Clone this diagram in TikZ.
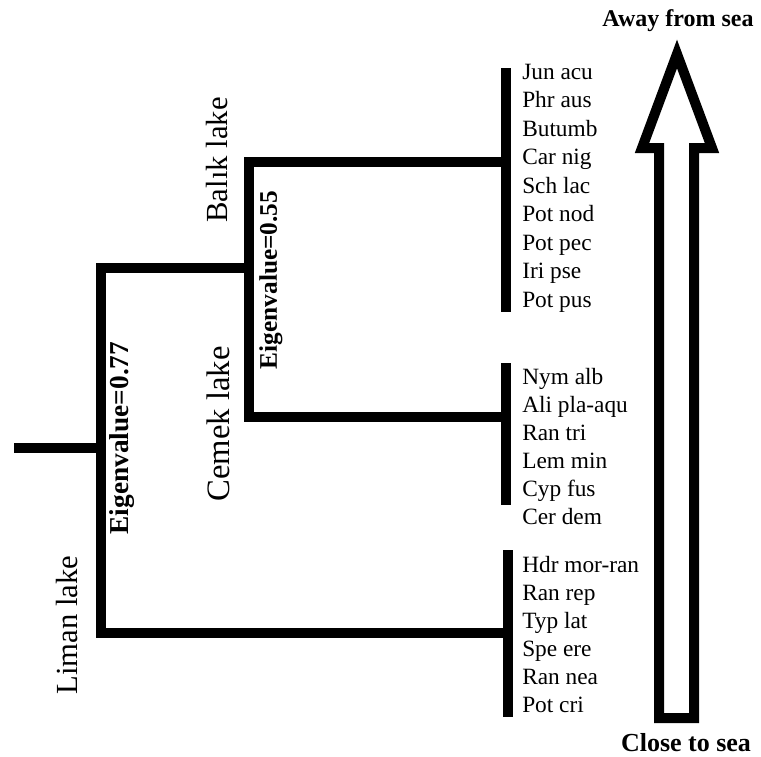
\documentclass[tikz,border=0pt]{standalone}
\usepackage{fontspec}
\setmainfont{Liberation Serif}
\usetikzlibrary{calc}
\tikzset{
  branch/.style={line width=7pt, line join=miter},
  leafbar/.style={line width=8pt},
  species/.style={anchor=base west, inner sep=0pt, font=\fontsize{17.5}{18}\selectfont},
  lake/.style={rotate=90, inner sep=0pt, font=\fontsize{23}{24}\selectfont},
  eigen/.style={rotate=90, inner sep=0pt, font=\bfseries\fontsize{19}{20}\selectfont},
  seaarrow/.style={line width=7.5pt, line join=miter},
  sealabel/.style={inner sep=0pt, font=\bfseries\fontsize{18}{20}\selectfont},
}

\begin{document}
\begin{tikzpicture}[x=0.75pt, y=-0.75pt]
\useasboundingbox (0,0) rectangle (761,757);

\begin{scope}
\coordinate (root) at (14,448);
\coordinate (n1) at (101,448);
\coordinate (n2) at (249,268);
\coordinate (g1) at (506,162);
\coordinate (g2) at (506,417);
\coordinate (g3) at (507,633);

\draw[branch] (root) -- (n1);
\draw[branch] (n2) -| (n1) |- (g3);
\draw[branch] (g1) -| (n2) |- (g2);

\coordinate (g1top) at (506,68);  \coordinate (g1bot) at (506,312);
\coordinate (g2top) at (506,363); \coordinate (g2bot) at (506,505);
\coordinate (g3top) at (508,550); \coordinate (g3bot) at (508,717);
\draw[leafbar] (g1top) -- (g1bot);
\draw[leafbar] (g2top) -- (g2bot);
\draw[leafbar] (g3top) -- (g3bot);

\node[eigen, font=\bfseries\fontsize{20.5}{22}\selectfont] (eig1) at (122,438) {Eigenvalue=0.77};
\node[eigen] (eig2) at (271,280) {Eigenvalue=0.55};

\node[lake] (balik) at (217,160) {Balık lake};
\node[lake, font=\fontsize{24.5}{26}\selectfont] (cemek) at (218,424) {Cemek lake};
\node[lake] (liman) at (67,625) {Liman lake};
\end{scope}%tree scope

\begin{scope}
\foreach \sp [count=\i] in {Jun acu, Phr aus, Butumb, Car nig, Sch lac, Pot nod, Pot pec, Iri pse, Pot pus}
  \node[species] (a\i) at (522,{79+28.5*(\i-1)}) {\sp};

\foreach \sp [count=\i] in {Nym alb, Ali pla-aqu, Ran tri, Lem min, Cyp fus, Cer dem}
  \node[species] (b\i) at (522,{384+28*(\i-1)}) {\sp};

\foreach \sp [count=\i] in {Hdr mor-ran, Ran rep, Typ lat, Spe ere, Ran nea, Pot cri}
  \node[species] (c\i) at (522,{572+28*(\i-1)}) {\sp};
\end{scope}%species scope

\begin{scope}
\coordinate (tip) at (677,54);
\draw[seaarrow] (tip) -- (712,148) -- (694,148) -- (694,718) -- (659,718)
      -- (659,148) -- (642,148) -- cycle;

\node[sealabel] (away) at (678,21) {Away from sea};
\node[sealabel, font=\bfseries\fontsize{19.5}{21}\selectfont] (close) at (686,743) {Close to sea};
\end{scope}%arrow scope

\end{tikzpicture}
\end{document}
